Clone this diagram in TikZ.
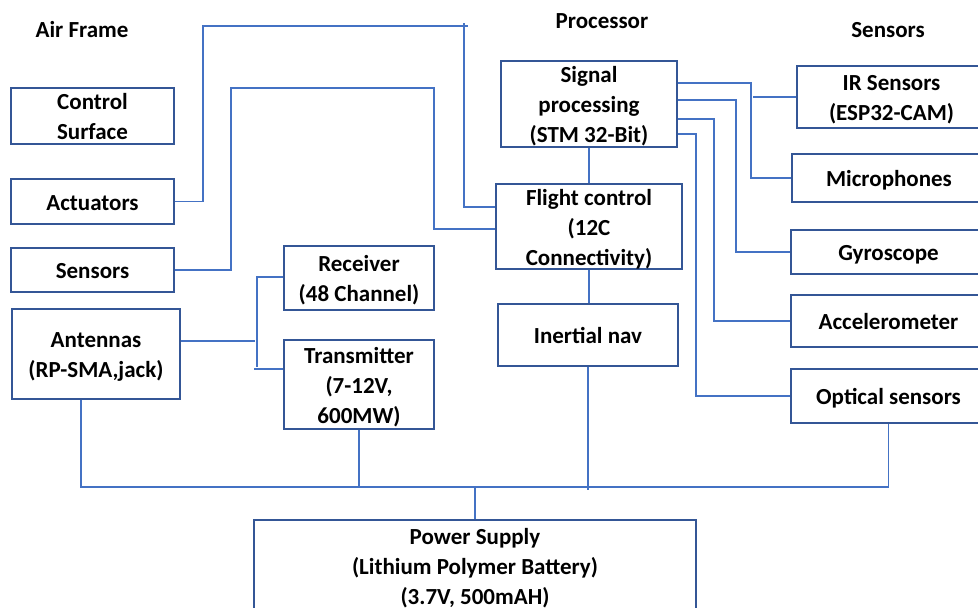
\documentclass[tikz,border=0pt]{standalone}
\usepackage{fontspec}
\setmainfont{Carlito}
\definecolor{boxline}{RGB}{52,86,150}
\definecolor{wireline}{RGB}{68,114,196}
% struts that sit the text a little low in its box
\newcommand\blkstrut{\rule[-5pt]{0pt}{27.5pt}}
\newcommand\topstrut{\rule{0pt}{22.5pt}}
\tikzset{
  blk/.style={draw=boxline, line width=1.4pt, inner xsep=0pt, inner ysep=-2pt, align=center,
    font=\fontsize{23}{30}\selectfont\bfseries,
    execute at end node=\blkstrut},
  head/.style={font=\fontsize{23}{30}\selectfont\bfseries},
  wire/.style={draw=wireline, line width=1.1pt}
}
\begin{document}
\begin{tikzpicture}[x=1pt,y=-1pt]
      \clip (0,0) rectangle (978,608);
      \fill[white] (0,0) rectangle (978,608);
      % column headings
      \node[head] (airframe) at (82,30) {Air Frame};
      \node[head] (processor) at (602,21) {Processor};
      \node[head] (sensors) at (888,30) {Sensors};
      % air frame column
      \node[blk, minimum width=163pt, minimum height=56pt] (cs) at (92.5,116) {\topstrut Control\\Surface};
      \node[blk, minimum width=163pt, minimum height=45pt] (act) at (92.5,201.5) {Actuators};
      \node[blk, minimum width=163pt, minimum height=44pt] (lsens) at (92.5,270) {Sensors};
      \node[blk, minimum width=168pt, minimum height=90pt] (ant) at (96,354) {\topstrut Antennas\\(RP-SMA,jack)};
      % radio link
      \node[blk, minimum width=150pt, minimum height=64pt] (rcv) at (359,278) {\topstrut Receiver\\(48 Channel)};
      \node[blk, minimum width=150pt, minimum height=89pt] (tx) at (359,384.5) {\topstrut Transmitter\\(7-12V,\\600MW)};
      % processor column
      \node[blk, minimum width=176pt, minimum height=86pt] (sp) at (589,104) {\topstrut Signal\\processing\\(STM 32-Bit)};
      \node[blk, minimum width=186pt, minimum height=85pt] (fc) at (589,226.5) {\topstrut Flight control\\(12C\\Connectivity)};
      \node[blk, minimum width=180pt, minimum height=62pt] (inav) at (588,335) {Inertial nav};
      % sensor column
      \node[blk, minimum width=189pt, minimum height=62pt] (ir) at (891.5,97) {\topstrut IR Sensors\\(ESP32-CAM)};
      \node[blk, minimum width=194pt, minimum height=48pt] (mic) at (889,178) {Microphones};
      \node[blk, minimum width=195pt, minimum height=44pt] (gyro) at (888.5,252) {Gyroscope};
      \node[blk, minimum width=195pt, minimum height=52pt] (acc) at (888.5,321) {Accelerometer};
      \node[blk, minimum width=195pt, minimum height=54pt] (opt) at (888.5,396) {Optical sensors};
      % power
      \node[blk, minimum width=442pt, minimum height=92pt] (pwr) at (475,566) {\topstrut Power Supply\\(Lithium Polymer Battery)\\(3.7V, 500mAH)};
      \begin{scope}[wire]
        % air frame to flight control
        \draw (act.east) -| (203,26) -- (468,26);
        \draw (464,23) |- (fc.west |- 0,207);
        \draw (lsens.east) -| (231,88) -| (434,229) -- (fc.west |- 0,229);
        % antennas, receiver, transmitter
        \draw (ant.east |- 0,341) -- (255,341);
        \draw (rcv.west |- 0,277) -| (257,367);
        \draw (254,369) -- (tx.west |- 0,369);
        % processor chain
        \draw (sp.south) -- (fc.north);
        \draw (fc.south) -- (fc.south |- inav.north);
        % signal processing to sensors
        \draw (sp.east |- 0,83) -| (mic.west -| 751,0) -- (mic.west);
        \draw (ir.west) -- (ir.west -| 753,0);
        \draw (sp.east |- 0,100) -| (gyro.west -| 736,0) -- (gyro.west);
        \draw (sp.east |- 0,119) -| (acc.west -| 714,0) -- (acc.west);
        \draw (sp.east |- 0,134) -| (opt.west -| 696,0) -- (opt.west);
        % power bus
        \draw (ant.south -| 81,0) |- (opt.south |- 0,487) -- (opt.south);
        \draw (tx.south) -- (tx.south |- 0,487);
        \draw (inav.south) -- (inav.south |- 0,490);
        \draw (pwr.north) -- (pwr.north |- 0,487);
      \end{scope}
    \end{tikzpicture}
\end{document}
